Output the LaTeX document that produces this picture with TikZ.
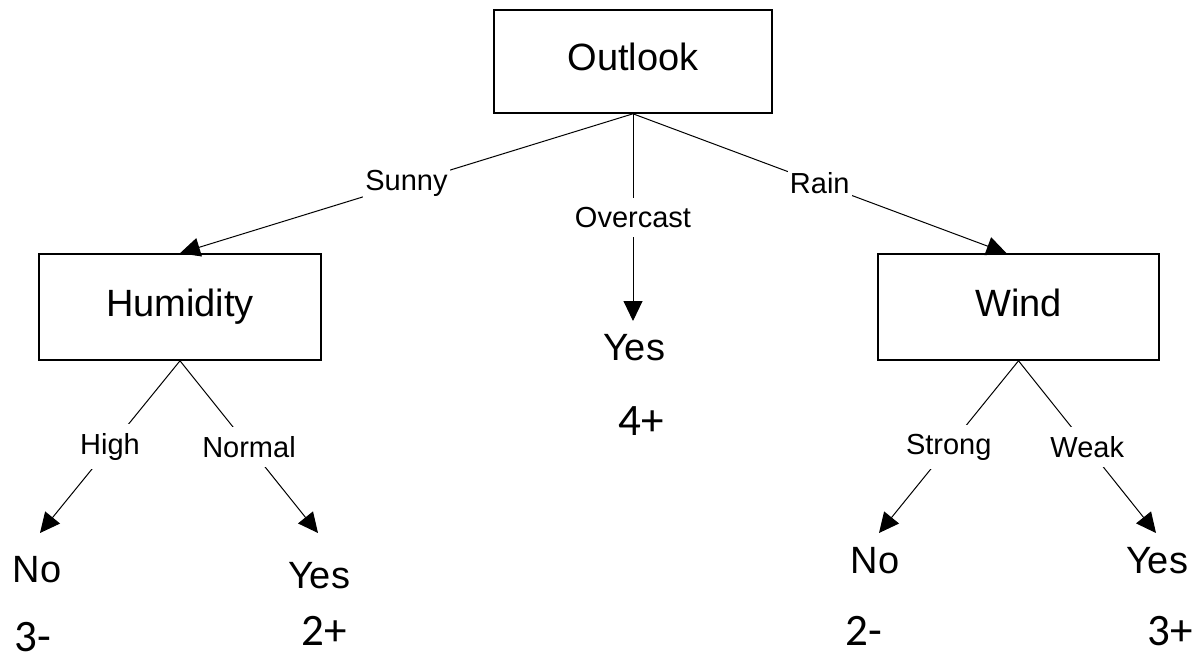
\documentclass[tikz,border=0pt]{standalone}
\usepackage{fontspec}
\setmainfont{Liberation Sans}
\newfontfamily\countfont{Carlito}
\usetikzlibrary{arrows.meta,calc}
\begin{document}
\begin{tikzpicture}[x=1pt,y=-1pt,
  attr/.style={draw, line width=1.6pt, minimum width=278pt, minimum height=103pt,
    text height=27pt, text depth=8pt, inner sep=0pt,
    font=\fontsize{38}{40}\selectfont},
  leaf/.style={anchor=base, inner sep=0pt, font=\fontsize{38}{40}\selectfont},
  count/.style={anchor=base, inner sep=0pt, font=\countfont\fontsize{45}{47}\selectfont},
  branch/.style={line width=1pt, -{Triangle[length=20pt,width=19pt]}},
  cond/.style={fill=white, inner xsep=2pt, inner ysep=2pt,
    font=\fontsize{29}{31}\selectfont},
  condv/.style={cond, inner ysep=9pt},
]
\useasboundingbox (0,0) rectangle (1199,660);

% attribute tests
\node[attr] (outlook) at (633,61.5) {Outlook};
\node[attr, minimum width=282pt, minimum height=106pt] (humidity) at (180,307) {Humidity};
\node[attr, minimum width=281pt, minimum height=106pt] (wind) at (1018.5,307) {Wind};

% class leaves
\node[leaf] (no1)  at (37,582)   {No};
\node[leaf] (yes1) at (319,588)  {Yes};
\node[leaf] (yes2) at (634,360)  {Yes};
\node[leaf] (no2)  at (875,573)  {No};
\node[leaf] (yes3) at (1157,573) {Yes};

% example counts
\node[count] (c1) at (33,651)   {3-};
\node[count] (c2) at (324,645)  {2+};
\node[count] (c3) at (641,435)  {4+};
\node[count] (c4) at (864,645)  {2-};
\node[count] (c5) at (1170,645) {3+};

% arrow ends above the leaves
\coordinate (tno1)  at (40,533);
\coordinate (tyes1) at (318,533);
\coordinate (tyes2) at (633,321);
\coordinate (tno2)  at (879,533);
\coordinate (tyes3) at (1156,533);

% branches
\draw[branch] (outlook.south) -- node[cond]{Sunny} (humidity.north);
\draw[branch] (outlook.south) -- node[condv]{Overcast} (tyes2);
\draw[branch] (outlook.south) -- node[cond]{Rain} ($(wind.north)+(-12,0)$);

\draw[branch] (humidity.south) -- node[condv]{High} (tno1);
\draw[branch] (humidity.south) -- node[condv]{Normal} (tyes1);
\draw[branch] (wind.south) -- node[condv]{Strong} (tno2);
\draw[branch] (wind.south) -- node[condv]{Weak} (tyes3);
\end{tikzpicture}
\end{document}
